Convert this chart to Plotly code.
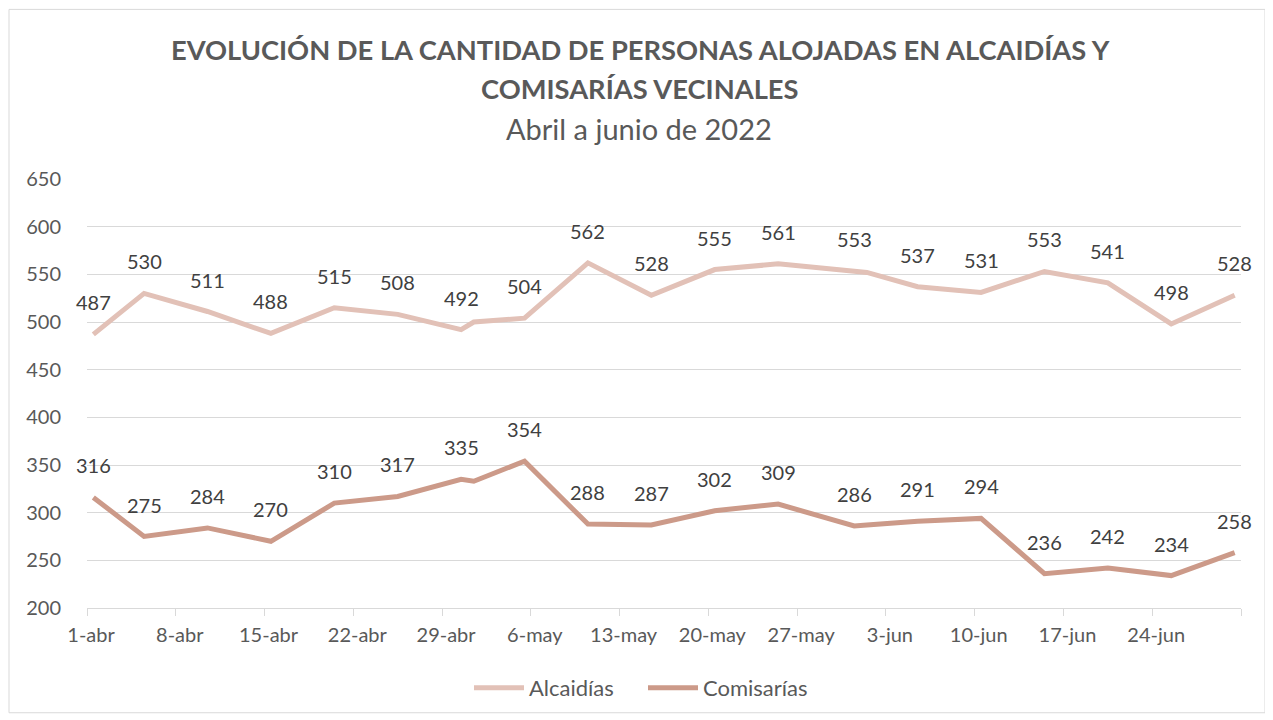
import pandas as pd
import plotly.graph_objects as go

# ---- data ----
dates = ["2022-04-01", "2022-04-05", "2022-04-10", "2022-04-15", "2022-04-20",
         "2022-04-25", "2022-04-30", "2022-05-01", "2022-05-05", "2022-05-10",
         "2022-05-15", "2022-05-20", "2022-05-25", "2022-05-31", "2022-06-01",
         "2022-06-05", "2022-06-10", "2022-06-15", "2022-06-20", "2022-06-25",
         "2022-06-30"]
alcaidias = [487, 530, 511, 488, 515, 508, 492, 500, 504, 562, 528, 555, 561,
             553, 552, 537, 531, 553, 541, 498, 528]
comisarias = [316, 275, 284, 270, 310, 317, 335, 333, 354, 288, 287, 302, 309,
              286, 287, 291, 294, 236, 242, 234, 258]
unlabeled_dates = ["2022-05-01", "2022-06-01"]

tick_dates = ["2022-04-01", "2022-04-08", "2022-04-15", "2022-04-22", "2022-04-29",
              "2022-05-06", "2022-05-13", "2022-05-20", "2022-05-27", "2022-06-03",
              "2022-06-10", "2022-06-17", "2022-06-24", "2022-07-01"]
tick_labels = ["1-abr", "8-abr", "15-abr", "22-abr", "29-abr", "6-may", "13-may",
               "20-may", "27-may", "3-jun", "10-jun", "17-jun", "24-jun", ""]

title_line1 = "EVOLUCIÓN DE LA CANTIDAD DE PERSONAS ALOJADAS EN ALCAIDÍAS Y"
title_line2 = "COMISARÍAS VECINALES"
subtitle = "Abril a junio de 2022"

# ---- styling ----
FONT = "Lato"
C_ALC = "#E2C1B7"
C_COM = "#CC9A89"
GRID = "#D9D9D9"
TXT = "#595959"
LBL = "#404040"

# Excel date axis: each day is a slot, points drawn in the middle of the day
x = pd.to_datetime(pd.Series(dates)) + pd.Timedelta(hours=12)

fig = go.Figure()
fig.add_trace(go.Scatter(x=x, y=alcaidias, mode="lines", name="Alcaidías",
                         line=dict(color=C_ALC, width=5)))
fig.add_trace(go.Scatter(x=x, y=comisarias, mode="lines", name="Comisarías",
                         line=dict(color=C_COM, width=5)))

annotations = []
for series in (alcaidias, comisarias):
    for d, xx, v in zip(dates, x, series):
        if d in unlabeled_dates:
            continue
        annotations.append(dict(x=xx, y=v, xref="x", yref="y", text=str(v),
                                showarrow=False, yshift=32,
                                font=dict(family=FONT, size=20, color=LBL)))

# page body has an 8px margin: work in screen pixels, convert to figure pixels
OFF = 8
W, H = 1273 - OFF, 720 - OFF
L, R, T, B = 87 - OFF, 1241 - OFF, 179 - OFF, 609 - OFF
pw, ph = R - L, B - T


def px_x(p):
    return (p - OFF - L) / pw


def px_y(p):
    return 1 - (p - OFF - T) / ph


annotations += [
    dict(x=px_x(640), y=px_y(49), xref="paper", yref="paper", text="<b>" + title_line1 + "</b>",
         showarrow=False, xanchor="center", yanchor="middle",
         font=dict(family=FONT, size=27.3, color=TXT)),
    dict(x=px_x(640), y=px_y(88), xref="paper", yref="paper", text="<b>" + title_line2 + "</b>",
         showarrow=False, xanchor="center", yanchor="middle",
         font=dict(family=FONT, size=27.3, color=TXT)),
    dict(x=px_x(639), y=px_y(128), xref="paper", yref="paper", text=subtitle,
         showarrow=False, xanchor="center", yanchor="middle",
         font=dict(family=FONT, size=29, color=TXT)),
]

fig.update_layout(
    width=W, height=H,
    margin=dict(l=L, r=W - R, t=T, b=H - B),
    paper_bgcolor="white", plot_bgcolor="white",
    font=dict(family=FONT, color=TXT),
    showlegend=True,
    legend=dict(orientation="h", x=px_x(643), xanchor="center", y=px_y(688), yanchor="middle",
                font=dict(family=FONT, size=22, color=TXT), itemwidth=50,
                entrywidth=109, entrywidthmode="pixels",
                bgcolor="rgba(0,0,0,0)"),
    annotations=annotations,
    shapes=[dict(type="rect", xref="paper", yref="paper",
                 x0=px_x(9), x1=px_x(1265), y0=px_y(714), y1=px_y(9),
                 line=dict(color=GRID, width=1), fillcolor="rgba(0,0,0,0)", layer="below")],
    hovermode=False,
)

fig.update_xaxes(type="date", range=["2022-04-01", "2022-07-01"],
                 tickmode="array", tickvals=tick_dates, ticktext=tick_labels,
                 ticks="outside", ticklen=7, tickcolor=GRID, tickwidth=1,
                 ticklabelshift=4, ticklabelstandoff=2,
                 showline=True, linecolor=GRID, linewidth=1,
                 showgrid=False, zeroline=False,
                 tickfont=dict(family=FONT, size=20, color=TXT))
fig.update_yaxes(range=[200, 650], dtick=50, tick0=200,
                 showgrid=True, gridcolor=GRID, gridwidth=1,
                 zeroline=False, showline=False, ticks="",
                 ticklabelstandoff=25,
                 tickfont=dict(family=FONT, size=20, color=TXT))

fig.write_html("out.html")
